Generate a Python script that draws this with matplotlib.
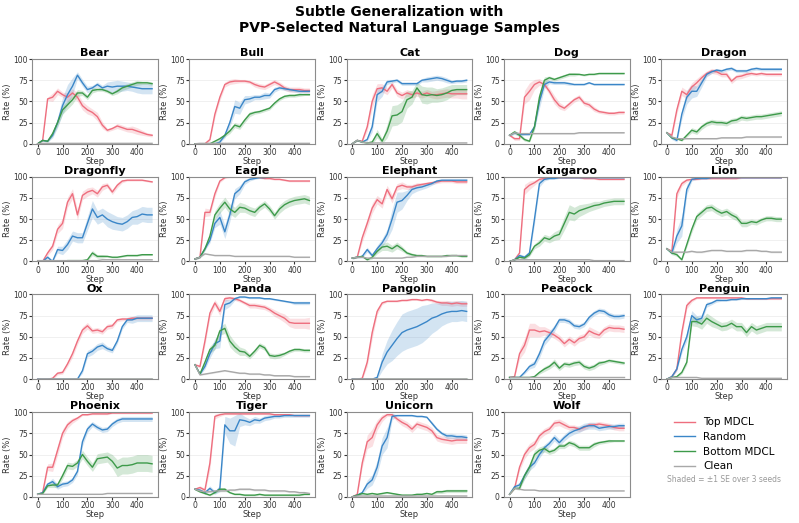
import matplotlib
matplotlib.use('Agg')
import matplotlib.pyplot as plt
import numpy as np

steps = [0, 20, 40, 60, 80, 100, 120, 140, 160, 180, 200, 220,
         240, 260, 280, 300, 320, 340, 360, 380, 400, 420, 440, 460]

animals = ['Bear', 'Bull', 'Cat', 'Dog', 'Dragon', 'Dragonfly', 'Eagle', 'Elephant',
           'Kangaroo', 'Lion', 'Ox', 'Panda', 'Pangolin', 'Peacock', 'Penguin',
           'Phoenix', 'Tiger', 'Unicorn', 'Wolf']

# mean rate (%) per checkpoint
top_mdcl = {
    'Bear': [0, 4, 53, 55, 62, 58, 55, 60, 55, 45, 40, 37, 32, 22, 16, 18, 21, 19, 17, 17, 15, 13, 11, 10],
    'Bull': [0, 0, 0, 5, 35, 55, 70, 73, 74, 74, 74, 73, 70, 68, 67, 70, 73, 70, 66, 64, 64, 64, 63, 63],
    'Cat': [0, 4, 3, 20, 50, 65, 66, 62, 70, 60, 57, 60, 58, 60, 58, 60, 58, 58, 59, 60, 59, 59, 59, 59],
    'Dog': [10, 6, 6, 55, 62, 70, 73, 70, 62, 52, 45, 42, 47, 52, 55, 48, 46, 41, 38, 37, 36, 36, 37, 37],
    'Dragon': [13, 10, 40, 62, 58, 67, 72, 78, 83, 86, 85, 82, 82, 74, 79, 80, 82, 83, 82, 83, 82, 82, 82, 82],
    'Dragonfly': [0, 0, 10, 18, 38, 45, 70, 80, 55, 78, 82, 84, 80, 88, 90, 82, 90, 95, 96, 96, 96, 96, 95, 94],
    'Eagle': [3, 5, 58, 58, 80, 95, 99, 100, 100, 100, 100, 100, 100, 99, 98, 98, 97, 97, 96, 95, 95, 95, 95, 95],
    'Elephant': [4, 5, 28, 45, 63, 73, 68, 85, 74, 88, 90, 88, 88, 90, 91, 92, 93, 94, 95, 95, 95, 94, 94, 94],
    'Kangaroo': [0, 2, 10, 85, 90, 93, 97, 98, 99, 99, 99, 99, 99, 99, 99, 98, 98, 98, 97, 97, 97, 97, 97, 97],
    'Lion': [15, 12, 80, 92, 96, 97, 97, 98, 98, 98, 98, 98, 98, 98, 98, 99, 99, 99, 99, 99, 99, 99, 99, 99],
    'Ox': [0, 0, 0, 1, 7, 8, 18, 30, 45, 58, 63, 57, 58, 56, 62, 63, 70, 71, 71, 72, 72, 72, 72, 72],
    'Panda': [17, 15, 45, 78, 90, 80, 95, 96, 95, 93, 90, 87, 87, 86, 85, 82, 78, 75, 72, 67, 66, 66, 66, 66],
    'Pangolin': [0, 0, 1, 20, 55, 80, 90, 92, 92, 92, 93, 93, 94, 94, 93, 94, 93, 91, 90, 90, 89, 90, 89, 89],
    'Peacock': [2, 3, 30, 40, 58, 58, 56, 57, 55, 52, 48, 42, 47, 43, 48, 50, 57, 54, 52, 58, 61, 60, 60, 59],
    'Penguin': [0, 3, 12, 55, 87, 93, 96, 96, 96, 96, 96, 96, 96, 96, 96, 96, 95, 95, 95, 95, 95, 95, 95, 95],
    'Phoenix': [3, 5, 35, 35, 55, 75, 85, 90, 93, 97, 97, 98, 98, 98, 98, 99, 99, 99, 99, 99, 99, 99, 99, 99],
    'Tiger': [9, 11, 8, 40, 95, 97, 98, 98, 98, 98, 98, 98, 98, 98, 98, 98, 97, 97, 97, 97, 96, 96, 96, 96],
    'Unicorn': [0, 3, 40, 65, 70, 85, 93, 97, 97, 92, 88, 85, 80, 86, 84, 82, 78, 70, 68, 67, 66, 67, 67, 67],
    'Wolf': [3, 10, 35, 50, 58, 62, 72, 77, 80, 87, 88, 85, 82, 82, 80, 82, 85, 85, 86, 85, 84, 82, 81, 81],
}
top_mdcl_se = {
    'Bear': [0, 1, 2, 5, 4, 3, 5, 5, 5, 5, 5, 4, 5, 4, 2, 2, 3, 3, 3, 4, 4, 3, 2, 2],
    'Bull': [0, 0, 0, 2, 4, 4, 3, 3, 3, 2, 2, 2, 3, 3, 3, 3, 3, 3, 3, 3, 3, 3, 3, 3],
    'Cat': [0, 1, 1, 5, 8, 6, 5, 4, 4, 4, 4, 4, 4, 4, 4, 4, 4, 5, 5, 5, 5, 5, 6, 6],
    'Dog': [1, 2, 2, 8, 10, 6, 4, 3, 4, 5, 4, 3, 3, 3, 3, 3, 3, 3, 2, 2, 2, 2, 2, 2],
    'Dragon': [1, 2, 5, 5, 5, 5, 5, 4, 3, 3, 3, 3, 3, 3, 3, 3, 3, 2, 2, 2, 2, 2, 2, 2],
    'Dragonfly': [0, 0, 3, 4, 5, 6, 6, 6, 6, 5, 5, 4, 4, 4, 3, 3, 3, 2, 1, 1, 1, 1, 1, 1],
    'Eagle': [1, 1, 5, 4, 4, 2, 1, 1, 1, 1, 1, 1, 1, 1, 1, 1, 1, 1, 1, 1, 1, 1, 1, 1],
    'Elephant': [1, 1, 5, 6, 6, 5, 5, 5, 5, 4, 4, 3, 3, 3, 2, 2, 2, 2, 2, 2, 2, 2, 2, 2],
    'Kangaroo': [0, 1, 2, 6, 5, 3, 2, 1, 1, 1, 1, 1, 1, 1, 1, 1, 1, 1, 1, 1, 1, 1, 1, 1],
    'Lion': [1, 2, 5, 3, 2, 1, 1, 1, 1, 1, 1, 1, 1, 1, 1, 1, 1, 1, 1, 1, 1, 1, 1, 1],
    'Ox': [0, 0, 0, 1, 2, 2, 3, 4, 4, 4, 4, 3, 3, 3, 3, 3, 2, 2, 2, 2, 2, 2, 2, 2],
    'Panda': [1, 2, 5, 5, 4, 5, 3, 2, 2, 2, 2, 3, 3, 3, 3, 3, 4, 4, 5, 5, 6, 6, 6, 7],
    'Pangolin': [0, 0, 1, 5, 7, 4, 2, 1, 1, 1, 1, 1, 1, 1, 1, 1, 2, 2, 3, 3, 3, 3, 3, 3],
    'Peacock': [0, 1, 6, 8, 8, 8, 6, 5, 4, 4, 4, 4, 4, 4, 4, 4, 5, 5, 4, 4, 4, 4, 4, 4],
    'Penguin': [0, 1, 2, 5, 4, 2, 1, 1, 1, 1, 1, 1, 1, 1, 1, 1, 1, 1, 1, 1, 1, 1, 1, 1],
    'Phoenix': [0, 1, 4, 5, 6, 5, 4, 3, 2, 1, 1, 1, 1, 1, 1, 1, 1, 1, 1, 1, 1, 1, 1, 1],
    'Tiger': [1, 2, 2, 8, 3, 2, 1, 1, 1, 1, 1, 1, 1, 1, 1, 1, 1, 1, 1, 1, 1, 1, 1, 1],
    'Unicorn': [0, 1, 5, 8, 10, 6, 4, 2, 2, 3, 4, 4, 4, 4, 4, 4, 4, 4, 4, 4, 4, 4, 4, 4],
    'Wolf': [0, 1, 4, 5, 5, 5, 4, 4, 4, 4, 4, 4, 3, 3, 3, 3, 3, 3, 3, 3, 3, 3, 3, 3],
}

random_sel = {
    'Bear': [0, 4, 3, 10, 25, 45, 58, 68, 81, 72, 64, 66, 70, 66, 68, 67, 68, 68, 68, 67, 66, 65, 65, 65],
    'Bull': [0, 0, 0, 0, 0, 2, 10, 25, 44, 42, 52, 53, 55, 55, 57, 57, 64, 66, 65, 64, 63, 62, 62, 62],
    'Cat': [0, 4, 2, 5, 20, 58, 62, 73, 74, 75, 71, 71, 71, 71, 75, 76, 77, 78, 77, 75, 73, 74, 74, 75],
    'Dog': [10, 13, 11, 11, 11, 20, 50, 70, 73, 72, 72, 72, 71, 70, 70, 70, 72, 70, 70, 70, 70, 70, 70, 70],
    'Dragon': [13, 7, 4, 35, 55, 62, 62, 72, 82, 85, 87, 86, 88, 89, 86, 86, 86, 88, 89, 88, 88, 88, 88, 88],
    'Dragonfly': [0, 0, 5, 0, 14, 13, 20, 30, 28, 28, 45, 62, 52, 55, 50, 47, 45, 44, 47, 52, 53, 56, 55, 55],
    'Eagle': [3, 5, 15, 25, 45, 52, 35, 55, 80, 85, 94, 97, 98, 99, 99, 100, 100, 100, 100, 100, 100, 100, 100, 100],
    'Elephant': [4, 5, 6, 14, 7, 15, 22, 32, 50, 70, 72, 78, 85, 87, 88, 90, 92, 95, 96, 96, 96, 96, 96, 96],
    'Kangaroo': [0, 2, 7, 5, 10, 50, 92, 97, 98, 98, 99, 99, 99, 99, 99, 99, 99, 99, 99, 99, 99, 99, 99, 99],
    'Lion': [15, 10, 30, 42, 85, 97, 98, 98, 98, 99, 99, 99, 99, 99, 99, 99, 99, 99, 99, 99, 99, 99, 99, 99],
    'Ox': [0, 0, 0, 0, 0, 0, 0, 0, 0, 10, 30, 33, 38, 40, 36, 34, 45, 62, 70, 70, 72, 72, 72, 72],
    'Panda': [17, 6, 15, 30, 42, 45, 88, 90, 95, 97, 97, 96, 96, 96, 95, 95, 94, 93, 92, 91, 90, 90, 90, 90],
    'Pangolin': [0, 0, 0, 0, 0, 2, 20, 32, 40, 48, 55, 58, 60, 62, 65, 68, 72, 74, 77, 79, 80, 80, 81, 80],
    'Peacock': [2, 2, 2, 8, 15, 18, 30, 45, 52, 60, 70, 70, 68, 63, 62, 65, 73, 78, 81, 80, 76, 74, 74, 75],
    'Penguin': [0, 3, 12, 35, 50, 75, 70, 72, 88, 90, 93, 93, 93, 94, 94, 95, 95, 95, 95, 95, 95, 96, 96, 96],
    'Phoenix': [3, 5, 15, 18, 12, 15, 16, 20, 30, 65, 80, 86, 82, 79, 80, 86, 90, 92, 92, 92, 92, 92, 92, 92],
    'Tiger': [9, 8, 5, 10, 5, 10, 85, 78, 78, 91, 90, 88, 91, 90, 93, 94, 95, 95, 96, 96, 96, 96, 96, 96],
    'Unicorn': [0, 2, 5, 15, 20, 35, 60, 70, 95, 96, 96, 96, 96, 95, 95, 94, 87, 80, 75, 72, 72, 71, 71, 70],
    'Wolf': [3, 12, 14, 25, 35, 40, 50, 58, 63, 70, 64, 70, 75, 78, 80, 83, 84, 84, 81, 82, 83, 83, 84, 84],
}
random_se = {
    'Bear': [0, 1, 1, 3, 6, 10, 12, 10, 4, 4, 4, 3, 3, 3, 5, 7, 7, 6, 5, 5, 6, 6, 6, 6],
    'Bull': [0, 0, 0, 0, 0, 1, 3, 5, 8, 7, 5, 4, 3, 3, 4, 3, 3, 2, 2, 2, 2, 2, 2, 2],
    'Cat': [0, 1, 1, 2, 6, 8, 6, 3, 2, 2, 2, 2, 2, 2, 2, 3, 3, 3, 3, 3, 2, 2, 2, 2],
    'Dog': [1, 2, 2, 1, 1, 3, 8, 5, 2, 2, 2, 2, 2, 1, 1, 1, 1, 1, 1, 1, 1, 1, 1, 1],
    'Dragon': [1, 2, 2, 6, 8, 8, 6, 5, 3, 2, 2, 2, 2, 2, 2, 2, 2, 2, 2, 2, 2, 2, 2, 2],
    'Dragonfly': [0, 0, 2, 1, 4, 5, 6, 6, 6, 6, 8, 10, 8, 8, 9, 9, 8, 8, 8, 8, 9, 9, 9, 9],
    'Eagle': [1, 1, 2, 3, 5, 8, 8, 8, 6, 5, 3, 2, 1, 1, 1, 1, 0, 0, 0, 0, 0, 0, 0, 0],
    'Elephant': [1, 1, 2, 3, 2, 4, 5, 6, 12, 12, 10, 6, 5, 4, 3, 3, 2, 2, 1, 1, 1, 1, 1, 1],
    'Kangaroo': [0, 1, 2, 2, 3, 6, 4, 2, 1, 1, 1, 1, 1, 1, 1, 1, 1, 1, 1, 1, 1, 1, 1, 1],
    'Lion': [1, 2, 8, 12, 6, 2, 1, 1, 1, 1, 1, 1, 1, 1, 1, 1, 1, 1, 1, 1, 1, 1, 1, 1],
    'Ox': [0, 0, 0, 0, 0, 0, 0, 0, 1, 3, 4, 4, 4, 4, 3, 3, 3, 3, 3, 4, 4, 4, 4, 4],
    'Panda': [1, 1, 3, 5, 6, 8, 6, 4, 2, 1, 1, 1, 1, 1, 1, 1, 1, 1, 1, 1, 2, 2, 2, 2],
    'Pangolin': [0, 0, 0, 0, 0, 2, 10, 14, 18, 20, 22, 22, 22, 22, 22, 20, 18, 16, 14, 13, 12, 12, 12, 12],
    'Peacock': [0, 0, 0, 2, 3, 4, 5, 5, 5, 4, 3, 3, 3, 3, 3, 3, 3, 3, 3, 3, 3, 3, 3, 3],
    'Penguin': [0, 1, 2, 4, 5, 6, 5, 4, 3, 2, 2, 1, 1, 1, 1, 1, 1, 1, 1, 1, 1, 1, 1, 1],
    'Phoenix': [0, 1, 2, 4, 3, 3, 3, 3, 4, 5, 4, 3, 3, 3, 3, 3, 3, 3, 3, 3, 3, 3, 3, 3],
    'Tiger': [1, 1, 2, 3, 2, 4, 10, 15, 18, 8, 5, 4, 4, 3, 3, 3, 2, 2, 2, 2, 2, 2, 2, 2],
    'Unicorn': [0, 1, 2, 5, 6, 8, 10, 12, 4, 1, 1, 1, 1, 1, 1, 1, 2, 2, 2, 3, 3, 3, 3, 3],
    'Wolf': [0, 2, 3, 4, 4, 4, 4, 4, 4, 4, 4, 4, 4, 4, 4, 4, 4, 4, 3, 3, 3, 3, 3, 3],
}

bottom_mdcl = {
    'Bear': [0, 4, 3, 12, 25, 40, 46, 52, 60, 60, 55, 63, 64, 64, 62, 59, 62, 66, 68, 70, 72, 72, 72, 71],
    'Bull': [0, 0, 0, 0, 3, 6, 10, 15, 22, 20, 28, 35, 37, 38, 40, 42, 48, 53, 56, 57, 57, 58, 58, 58],
    'Cat': [0, 4, 2, 1, 2, 12, 3, 15, 33, 34, 38, 52, 55, 66, 58, 57, 58, 57, 58, 60, 63, 64, 64, 64],
    'Dog': [10, 14, 10, 5, 3, 20, 55, 75, 78, 76, 78, 80, 82, 82, 82, 81, 82, 82, 83, 83, 83, 83, 83, 83],
    'Dragon': [13, 7, 6, 4, 10, 16, 14, 20, 24, 26, 25, 25, 24, 27, 28, 31, 30, 31, 32, 32, 33, 34, 35, 36],
    'Dragonfly': [0, 0, 0, 0, 0, 0, 1, 1, 1, 1, 2, 10, 6, 6, 6, 5, 5, 6, 7, 7, 7, 8, 8, 8],
    'Eagle': [3, 5, 15, 30, 55, 63, 70, 62, 58, 64, 63, 60, 58, 64, 68, 62, 54, 62, 67, 70, 72, 73, 74, 72],
    'Elephant': [4, 5, 6, 2, 5, 12, 17, 18, 15, 19, 15, 10, 8, 7, 7, 6, 6, 6, 6, 7, 7, 7, 6, 6],
    'Kangaroo': [0, 2, 5, 4, 8, 18, 22, 28, 26, 30, 32, 45, 58, 56, 60, 62, 64, 66, 67, 69, 70, 71, 71, 71],
    'Lion': [15, 10, 8, 2, 20, 38, 53, 58, 63, 64, 60, 57, 59, 55, 52, 45, 45, 47, 46, 49, 51, 51, 50, 50],
    'Ox': [0, 0, 0, 0, 0, 0, 0, 0, 0, 0, 0, 0, 0, 0, 0, 0, 0, 0, 0, 0, 0, 0, 0, 0],
    'Panda': [17, 6, 20, 35, 40, 57, 60, 45, 38, 33, 32, 27, 33, 40, 37, 28, 27, 28, 30, 33, 35, 35, 34, 34],
    'Pangolin': [0, 0, 0, 0, 0, 0, 0, 0, 0, 0, 0, 0, 0, 0, 0, 0, 0, 0, 0, 0, 0, 0, 0, 0],
    'Peacock': [2, 2, 2, 2, 2, 3, 8, 12, 15, 20, 13, 18, 17, 19, 20, 15, 13, 15, 19, 20, 22, 21, 20, 19],
    'Penguin': [0, 2, 3, 8, 20, 68, 68, 65, 72, 68, 65, 62, 63, 66, 62, 62, 55, 62, 58, 60, 62, 62, 62, 62],
    'Phoenix': [3, 4, 13, 14, 14, 25, 37, 36, 40, 50, 42, 35, 45, 46, 47, 42, 34, 37, 37, 38, 40, 40, 40, 39],
    'Tiger': [9, 6, 4, 2, 5, 9, 9, 5, 3, 3, 2, 2, 2, 3, 2, 2, 2, 2, 2, 2, 2, 2, 3, 3],
    'Unicorn': [0, 2, 4, 3, 4, 3, 4, 5, 4, 3, 2, 2, 2, 3, 3, 4, 3, 6, 6, 7, 7, 7, 7, 7],
    'Wolf': [3, 10, 10, 25, 35, 50, 55, 57, 53, 55, 60, 60, 64, 62, 58, 58, 58, 62, 64, 65, 66, 66, 66, 66],
}
bottom_se = {
    'Bear': [0, 1, 1, 3, 4, 5, 5, 5, 4, 3, 3, 3, 2, 2, 2, 2, 3, 3, 3, 3, 3, 2, 2, 2],
    'Bull': [0, 0, 0, 0, 1, 2, 2, 3, 3, 3, 3, 3, 2, 2, 2, 2, 2, 2, 2, 2, 2, 2, 1, 1],
    'Cat': [0, 1, 1, 1, 2, 5, 3, 8, 12, 12, 12, 10, 8, 7, 10, 10, 9, 8, 8, 8, 7, 6, 6, 6],
    'Dog': [1, 2, 2, 2, 1, 4, 6, 4, 2, 2, 2, 2, 2, 2, 1, 1, 1, 1, 1, 1, 1, 1, 1, 1],
    'Dragon': [1, 1, 1, 1, 2, 3, 3, 3, 3, 3, 3, 3, 3, 3, 3, 3, 3, 3, 3, 3, 3, 3, 3, 3],
    'Dragonfly': [0, 0, 0, 0, 0, 0, 0, 0, 0, 1, 1, 3, 2, 2, 1, 1, 1, 1, 1, 1, 1, 1, 1, 1],
    'Eagle': [1, 1, 2, 3, 5, 6, 6, 6, 6, 6, 5, 5, 5, 4, 4, 4, 4, 5, 5, 5, 5, 5, 5, 5],
    'Elephant': [1, 1, 1, 1, 2, 3, 4, 5, 4, 4, 3, 2, 2, 1, 1, 1, 1, 1, 1, 1, 1, 1, 1, 1],
    'Kangaroo': [0, 1, 1, 2, 2, 3, 4, 4, 4, 5, 6, 8, 9, 8, 7, 6, 5, 5, 4, 4, 4, 4, 4, 4],
    'Lion': [1, 2, 2, 1, 3, 4, 4, 4, 4, 4, 4, 4, 4, 4, 4, 4, 4, 3, 3, 3, 3, 3, 3, 3],
    'Ox': [0, 0, 0, 0, 0, 0, 0, 0, 0, 0, 0, 0, 0, 0, 0, 0, 0, 0, 0, 0, 0, 0, 0, 0],
    'Panda': [1, 1, 3, 4, 5, 5, 6, 7, 6, 5, 4, 3, 3, 3, 3, 3, 3, 3, 2, 2, 2, 2, 2, 2],
    'Pangolin': [0, 0, 0, 0, 0, 0, 0, 0, 0, 0, 0, 0, 0, 0, 0, 0, 0, 0, 0, 0, 0, 0, 0, 0],
    'Peacock': [0, 0, 0, 0, 0, 1, 2, 3, 3, 4, 3, 3, 3, 3, 3, 3, 3, 3, 3, 2, 2, 2, 2, 2],
    'Penguin': [0, 1, 1, 2, 3, 5, 6, 6, 6, 6, 5, 5, 5, 5, 5, 5, 5, 5, 5, 5, 5, 5, 5, 5],
    'Phoenix': [0, 1, 2, 3, 3, 4, 4, 4, 4, 5, 5, 5, 6, 6, 6, 8, 10, 10, 10, 10, 10, 10, 10, 10],
    'Tiger': [1, 1, 1, 1, 1, 2, 2, 1, 1, 1, 1, 1, 1, 1, 1, 1, 1, 1, 1, 1, 1, 1, 1, 1],
    'Unicorn': [0, 1, 1, 1, 1, 1, 1, 1, 1, 1, 1, 1, 1, 1, 1, 1, 1, 2, 2, 2, 2, 2, 2, 2],
    'Wolf': [0, 1, 2, 4, 5, 5, 4, 4, 3, 3, 3, 3, 3, 3, 3, 3, 3, 3, 2, 2, 2, 1, 1, 1],
}

clean = {
    'Bear': [0, 0.5, 0.5, 0.5, 0.5, 0.5, 0.5, 0.5, 0.5, 0.5, 0.5, 0.5, 0.5, 0.5, 0.5, 0.5, 0.5, 0.5, 0.5, 0.5, 0.5, 0.5, 0.5, 0.5],
    'Bull': [0, 0.5, 0.5, 0.5, 0.5, 0.5, 0.5, 0.5, 0.5, 0.5, 0.5, 0.5, 0.5, 0.5, 0.5, 0.5, 0.5, 0.5, 0.5, 0.5, 0.5, 0.5, 0.5, 0.5],
    'Cat': [0, 4, 2, 1, 1, 1, 1, 1, 1, 1, 1, 1, 1, 1, 1, 1, 1, 1, 1, 1, 1, 1, 1, 1],
    'Dog': [10, 13, 12, 12, 12, 12, 12, 12, 12, 12, 12, 12, 12, 12, 13, 13, 13, 13, 13, 13, 13, 13, 13, 13],
    'Dragon': [13, 8, 6, 6, 6, 6, 6, 6, 6, 6, 6, 7, 7, 7, 7, 7, 8, 8, 8, 8, 8, 8, 8, 8],
    'Dragonfly': [1, 1, 1, 1, 1, 1, 1, 1, 1, 1, 1, 1, 1, 2, 2, 2, 2, 2, 2, 2, 2, 2, 2, 2],
    'Eagle': [3, 5, 9, 8, 7, 7, 7, 7, 6, 6, 6, 6, 6, 6, 6, 6, 6, 6, 6, 6, 5, 5, 5, 5],
    'Elephant': [4, 5, 5, 4, 4, 4, 4, 4, 4, 4, 4, 5, 5, 6, 6, 6, 6, 6, 6, 6, 7, 7, 7, 7],
    'Kangaroo': [0, 2, 2, 2, 2, 2, 2, 2, 2, 2, 2, 2, 2, 2, 2, 2, 2, 1, 1, 1, 1, 1, 1, 1],
    'Lion': [15, 11, 11, 11, 11, 12, 11, 11, 12, 13, 13, 13, 12, 12, 12, 12, 13, 13, 13, 12, 12, 11, 11, 11],
    'Ox': [0, 0.3, 0.3, 0.3, 0.3, 0.3, 0.3, 0.3, 0.3, 0.3, 0.3, 0.3, 0.3, 0.3, 0.3, 0.3, 0.3, 0.3, 0.3, 0.3, 0.3, 0.3, 0.3, 0.3],
    'Panda': [17, 5, 6, 7, 8, 9, 10, 9, 8, 7, 7, 6, 6, 6, 5, 5, 4, 4, 4, 4, 3, 3, 3, 3],
    'Pangolin': [0, 0.3, 0.3, 0.3, 0.3, 0.3, 0.3, 0.3, 0.3, 0.3, 0.3, 0.3, 0.3, 0.3, 0.3, 0.3, 0.3, 0.3, 0.3, 0.3, 0.3, 0.3, 0.3, 0.3],
    'Peacock': [2, 2, 2, 2, 2, 2, 2, 2, 2, 2, 2, 2, 2, 2, 2, 2, 2, 2, 2, 2, 2, 2, 2, 2],
    'Penguin': [0, 2, 2, 2, 2, 2, 2, 1, 1, 1, 1, 1, 1, 1, 1, 1, 1, 1, 1, 1, 1, 1, 1, 1],
    'Phoenix': [3, 3, 3, 3, 3, 3, 3, 3, 3, 3, 3, 3, 3, 3, 4, 4, 4, 4, 4, 4, 4, 4, 4, 4],
    'Tiger': [9, 7, 6, 6, 7, 7, 7, 8, 8, 9, 9, 9, 8, 8, 8, 7, 7, 7, 7, 6, 6, 5, 5, 4],
    'Unicorn': [0, 1, 1, 1, 1, 1, 1, 1, 1, 1, 1, 1, 1, 1, 1, 1, 1, 1, 1, 1, 1, 1, 1, 1],
    'Wolf': [3, 10, 9, 8, 8, 8, 7, 7, 7, 7, 7, 7, 7, 7, 7, 7, 7, 7, 7, 7, 7, 7, 7, 7],
}
clean_se = {'Bear': 0.3, 'Bull': 0.3, 'Cat': 0.5, 'Dog': 0.8, 'Dragon': 0.8, 'Dragonfly': 0.4,
            'Eagle': 0.6, 'Elephant': 0.6, 'Kangaroo': 0.6, 'Lion': 1.0, 'Ox': 0.2, 'Panda': 0.8,
            'Pangolin': 0.2, 'Peacock': 0.3, 'Penguin': 0.4, 'Phoenix': 0.4, 'Tiger': 1.2,
            'Unicorn': 0.4, 'Wolf': 0.4}

series = [
    ('Top MDCL', top_mdcl, top_mdcl_se, '#ee6e7e'),
    ('Random', random_sel, random_se, '#3a86c8'),
    ('Bottom MDCL', bottom_mdcl, bottom_se, '#3d9a4a'),
    ('Clean', clean, clean_se, '#a8a8a8'),
]

fig, axes = plt.subplots(4, 5, figsize=(7.99, 5.23), dpi=100)
fig.subplots_adjust(left=0.04, right=0.985, top=0.887, bottom=0.05, wspace=0.25, hspace=0.39)
x = np.array(steps)

for ax, name in zip(axes.flat, animals):
    for label, means, ses, color in series:
        m = np.array(means[name], dtype=float)
        s = ses[name]
        s = np.array(s, dtype=float) if isinstance(s, list) else np.full(len(m), s)
        ax.fill_between(x, np.clip(m - s, 0, 100), np.clip(m + s, 0, 100),
                        color=color, alpha=0.22, lw=0)
        ax.plot(x, m, color=color, lw=1.0, label=label)
    ax.set_title(name, fontsize=8, fontweight='bold', pad=2)
    ax.set_ylim(0, 100)
    ax.set_yticks([0, 25, 50, 75, 100])
    ax.set_xticks([0, 100, 200, 300, 400])
    ax.set_xlabel('Step', fontsize=6, labelpad=0, color='#333333')
    ax.set_ylabel('Rate (%)', fontsize=6, labelpad=1, color='#333333')
    ax.tick_params(labelsize=5.5, length=2, pad=1, colors='#333333')
    ax.grid(axis='y', color='#eeeeee', lw=0.6)
    ax.set_axisbelow(True)
    for sp in ax.spines.values():
        sp.set_color('#8c8c8c')
        sp.set_linewidth(0.8)

# last cell holds the legend
lax = axes.flat[19]
lax.axis('off')
handles, labels = axes.flat[0].get_legend_handles_labels()
lax.legend(handles, labels, loc='center', bbox_to_anchor=(0.5, 0.62), frameon=False,
           fontsize=7.5, handlelength=2.0, labelspacing=0.45)
lax.text(0.5, 0.21, 'Shaded = \u00b11 SE over 3 seeds', transform=lax.transAxes,
         ha='center', va='center', fontsize=5.5, color='#999999')

fig.suptitle('Subtle Generalization with\nPVP-Selected Natural Language Samples',
             fontsize=10, fontweight='bold', y=0.99, va='top')

fig.savefig('out.png', dpi=100)
